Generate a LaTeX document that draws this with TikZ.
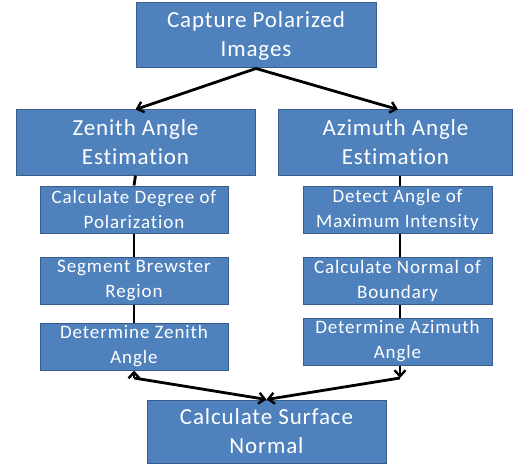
\documentclass[tikz,border=0pt]{standalone}
\usepackage{fontspec}
\setmainfont{Carlito}
\newfontfamily\bigfam[LetterSpace=3.8,Ligatures=NoCommon]{Carlito}
\newfontfamily\smallfam[LetterSpace=4.7,Ligatures=NoCommon]{Carlito}
\usetikzlibrary{arrows.meta}
\definecolor{boxfill}{HTML}{4F81BD}
\definecolor{boxline}{HTML}{385D8A}
\tikzset{
  bigbox/.style={draw=boxline, fill=boxfill, line width=1pt, text=white, align=center,
    inner sep=0pt, font=\bigfam\fontsize{23}{29}\selectfont},
  smallbox/.style={draw=boxline, fill=boxfill, line width=1pt, text=white, align=center,
    inner sep=0pt, font=\smallfam\fontsize{19}{25}\selectfont},
  conn/.style={line width=2.8pt, black},
  arr/.style={conn, -{Straight Barb[length=6pt,width=11pt,line width=2.4pt]}}
}
\begin{document}
\begin{tikzpicture}[x=1pt,y=-1pt]
\useasboundingbox (0,0) rectangle (513,465);
\node[bigbox, minimum width=240pt, minimum height=65pt] (top) at (256,35.5) {Capture Polarized\\Images};
\node[bigbox, minimum width=239pt, minimum height=65pt] (zen) at (135.5,142.5) {Zenith Angle\\Estimation};
\node[bigbox, minimum width=234pt, minimum height=65pt] (azi) at (395.5,142.5) {Azimuth Angle\\Estimation};
\node[smallbox, minimum width=188pt, minimum height=47pt] (z1) at (134,209.5) {Calculate Degree of\\Polarization};
\node[smallbox, minimum width=188pt, minimum height=47pt] (z2) at (134,280.5) {Segment Brewster\\Region};
\node[smallbox, minimum width=188pt, minimum height=47pt] (z3) at (134,346.5) {Determine Zenith\\Angle};
\node[smallbox, minimum width=189pt, minimum height=47pt] (a1) at (397.5,209.5) {Detect Angle of\\Maximum Intensity};
\node[smallbox, minimum width=189pt, minimum height=47pt] (a2) at (397.5,280.5) {Calculate Normal of\\Boundary};
\node[smallbox, minimum width=189pt, minimum height=47pt] (a3) at (397.5,341.5) {Determine Azimuth\\Angle};
\node[bigbox, minimum width=239pt, minimum height=63pt] (fin) at (266.5,431.5) {Calculate Surface\\Normal};
\coordinate (zl) at (134,378);
\coordinate (ar) at (400,378);
% top arrows
\draw[arr] (top.south) -- (zen.north);
\draw[arr] (top.south) -- ([xshift=2.5pt]azi.north);
% vertical links
\draw[conn] (zen.south) -- (z1.north);
\draw[conn] (z1.south) -- (z2.north);
\draw[conn] (z2.south) -- (z3.north);
\draw[conn] ([xshift=4.5pt]azi.south) -- ([xshift=2.5pt]a1.north);
\draw[conn] ([xshift=2.5pt]a1.south) -- ([xshift=2.5pt]a2.north);
\draw[conn] ([xshift=2.5pt]a2.south) -- ([xshift=2.5pt]a3.north);
% bottom arrows
\draw[arr] (zl) -- (z3.south);
\draw[arr] ([xshift=2.5pt]a3.south) -- (ar);
\draw[arr] (zl) -- (fin.north);
\draw[arr] (ar) -- (fin.north);
\end{tikzpicture}
\end{document}
